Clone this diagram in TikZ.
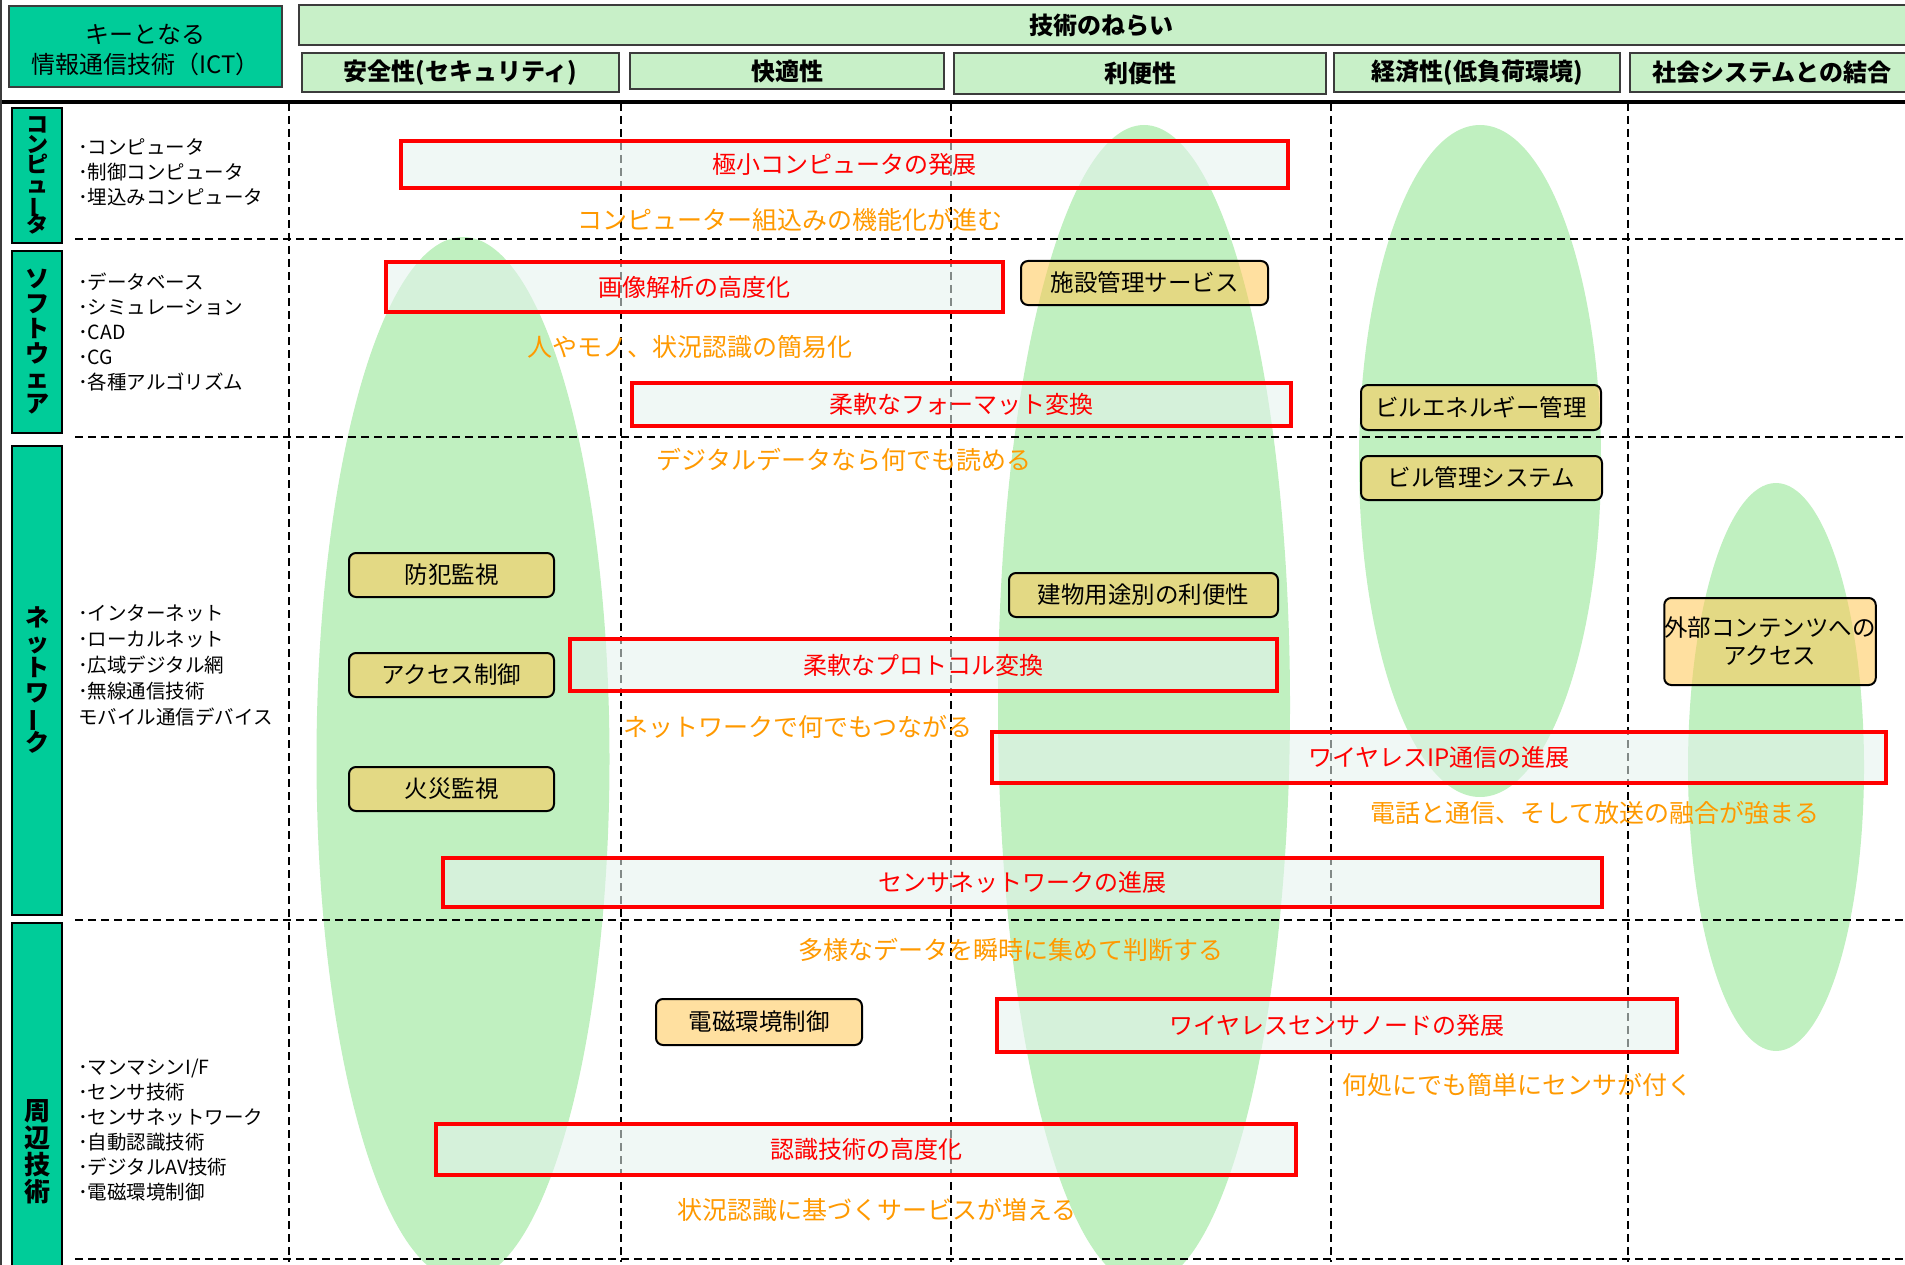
\documentclass[tikz,border=0pt]{standalone}
\usepackage{fontspec}
\setmainfont{Noto Sans CJK JP}
\usepackage{graphicx}
\usetikzlibrary{shapes.geometric}
\definecolor{tealc}{RGB}{0,204,153}
\definecolor{hdrgreen}{RGB}{200,240,200}
\definecolor{hdrline}{RGB}{60,60,60}
\definecolor{ellgreen}{RGB}{192,240,192}
\definecolor{redfill}{RGB}{229,243,238}
\definecolor{yfill}{RGB}{255,200,86}
\definecolor{orangetxt}{RGB}{255,153,0}
\newcommand{\vchou}{\rotatebox[origin=c]{90}{ー}}
\tikzset{
 redbox/.style={draw=red, line width=4pt, fill=redfill, fill opacity=0.57, text opacity=1, text=red, font=\fontsize{24}{28}\selectfont, inner sep=0pt},
 ybox/.style={draw=black, line width=2pt, rounded corners=7pt, fill=yfill, fill opacity=0.56, text opacity=1, text=black, font=\fontsize{23.5}{28}\selectfont, inner sep=0pt, align=center},
 note/.style={text=orangetxt, font=\fontsize{25}{28}\selectfont, inner sep=0pt},
 hdr/.style={draw=hdrline, line width=1.5pt, fill=hdrgreen, font=\bfseries\fontsize{24}{28}\selectfont, inner sep=0pt},
 catbox/.style={draw=black, line width=2pt, fill=tealc, inner sep=0pt, align=center, minimum width=50pt},
 items/.style={anchor=west, align=left, inner sep=0pt, font=\fontsize{19.5}{25}\selectfont},
 gridthick/.style={line width=2pt, dash pattern=on 8pt off 5pt},
 gridthin/.style={line width=1.3pt, dash pattern=on 8pt off 5pt},
}
\begin{document}
\begin{tikzpicture}[x=1pt,y=-1pt]
\useasboundingbox (0,0) rectangle (1905,1265);
\clip (0,0) rectangle (1905,1265);
% green ellipses
\fill[ellgreen] (463,759) ellipse [x radius=146.5pt, y radius=522pt];
\fill[ellgreen] (1144,705) ellipse [x radius=146pt, y radius=580pt];
\fill[ellgreen] (1480,461) ellipse [x radius=121pt, y radius=336pt];
\fill[ellgreen] (1776,767) ellipse [x radius=88pt, y radius=284pt];
% grid
\foreach \xx in {289,1331,1628} \draw[gridthick] (\xx,103) -- (\xx,1262);
\foreach \xx in {621,951} \draw[gridthin] (\xx,103) -- (\xx,1262);
\foreach \yy in {239,437,920,1259} \draw[gridthick] (75,\yy) -- (1905,\yy);
\draw[line width=4pt] (0,102) -- (1905,102);
\draw[line width=2pt, hdrline] (1,0) -- (1,1265);
% header
\node[draw=hdrline, line width=1.5pt, fill=tealc, minimum width=273pt, minimum height=81pt, inner sep=0pt] (ict) at (145.5,46.5) {};
\node[align=center, inner sep=0pt, font=\fontsize{24}{30}\selectfont] (icttext) at (145.5,50) {キーとなる\\情報通信技術（ICT）};
\node[hdr, minimum width=1615pt, minimum height=40pt] (aim) at (1106.5,25) {\hspace*{-10pt}技術のねらい};
\node[hdr, minimum width=317pt, minimum height=39pt] (h1) at (460.5,72.5) {安全性(セキュリティ)};
\node[hdr, minimum width=314pt, minimum height=36pt] (h2) at (787,71) {快適性};
\node[hdr, minimum width=372pt, minimum height=41pt] (h3) at (1140,73.5) {利便性};
\node[hdr, minimum width=286pt, minimum height=39pt] (h4) at (1477,72.5) {経済性(低負荷環境)};
\node[hdr, minimum width=284pt, minimum height=39pt] (h5) at (1772,72.5) {社会システムとの結合};
% category boxes
\node[catbox, minimum height=135pt, font={\bfseries\fontsize{22}{20}\selectfont\lineskiplimit=-50pt}] (catcomp) at (37,175.5) {コ\\ン\\ピ\\ュ\\\vchou\\タ};
\node[catbox, minimum height=182pt, font={\bfseries\fontsize{24}{25}\selectfont\lineskiplimit=-50pt}] (catsoft) at (37,342) {ソ\\フ\\ト\\ウ\\ェ\\ア};
\node[catbox, minimum height=469pt, font={\bfseries\fontsize{24}{25}\selectfont\lineskiplimit=-50pt}] (catnet) at (37,680) {ネ\\ッ\\ト\\ワ\\\vchou\\ク};
\node[catbox, minimum height=457pt, font={\bfseries\fontsize{26}{27}\selectfont\lineskiplimit=-50pt}] (catperi) at (37,1151.5) {周\\辺\\技\\術};
% item lists
\node[items] (compitems) at (78,172.5) {･コンピュータ\\･制御コンピュータ\\･埋込みコンピュータ};
\node[items] (softitems) at (78,332.5) {･データベース\\･シミュレーション\\･CAD\\･CG\\･各種アルゴリズム};
\node[items, font=\fontsize{19.5}{26}\selectfont] (netitems) at (78,665) {･インターネット\\･ローカルネット\\･広域デジタル網\\･無線通信技術\\モバイル通信デバイス};
\node[items] (periitems) at (78,1130.5) {･マンマシンI/F\\･センサ技術\\･センサネットワーク\\･自動認識技術\\･デジタルAV技術\\･電磁環境制御};
% red boxes
\node[redbox, minimum width=887pt, minimum height=47pt] (r1) at (844.5,164.5) {極小コンピュータの発展};
\node[redbox, minimum width=617pt, minimum height=50pt] (r2) at (694.5,287) {画像解析の高度化};
\node[redbox, minimum width=659pt, minimum height=43pt] (r3) at (961.5,404.5) {柔軟なフォーマット変換};
\node[redbox, minimum width=707pt, minimum height=52pt] (r4) at (923.5,665) {柔軟なプロトコル変換};
\node[redbox, minimum width=894pt, minimum height=51pt] (r5) at (1439,757.5) {ワイヤレスIP通信の進展};
\node[redbox, minimum width=1159pt, minimum height=49pt] (r6) at (1022.5,882.5) {センサネットワークの進展};
\node[redbox, minimum width=680pt, minimum height=53pt] (r7) at (1337,1025.5) {ワイヤレスセンサノードの発展};
\node[redbox, minimum width=860pt, minimum height=51pt] (r8) at (866,1149.5) {認識技術の高度化};
% yellow boxes
\node[ybox, minimum width=247pt, minimum height=44pt] (y1) at (1144.5,283) {施設管理サービス};
\node[ybox, minimum width=205pt, minimum height=44pt] (y2) at (451.5,575) {防犯監視};
\node[ybox, minimum width=205pt, minimum height=44pt] (y3) at (451.5,675) {アクセス制御};
\node[ybox, minimum width=205pt, minimum height=44pt] (y4) at (451.5,789) {火災監視};
\node[ybox, minimum width=269pt, minimum height=44pt] (y5) at (1143.5,595) {建物用途別の利便性};
\node[ybox, minimum width=240pt, minimum height=45pt] (y6) at (1481,407.5) {ビルエネルギー管理};
\node[ybox, minimum width=241pt, minimum height=44pt] (y7) at (1481.5,478) {ビル管理システム};
\node[ybox, minimum width=206pt, minimum height=87pt] (y8) at (1770,641.5) {外部コンテンツへの\\アクセス};
\node[ybox, minimum width=206pt, minimum height=46pt] (y9) at (759,1022) {電磁環境制御};
% orange notes
\node[note] (n1) at (790,220) {コンピューター組込みの機能化が進む};
\node[note] (n2) at (690,347) {人やモノ、状況認識の簡易化};
\node[note] (n3) at (844,460) {デジタルデータなら何でも読める};
\node[note] (n4) at (798,727) {ネットワークで何でもつながる};
\node[note] (n5) at (1595,813) {電話と通信、そして放送の融合が強まる};
\node[note] (n6) at (1011,950) {多様なデータを瞬時に集めて判断する};
\node[note] (n7) at (1517,1085) {何処にでも簡単にセンサが付く};
\node[note] (n8) at (877,1210) {状況認識に基づくサービスが増える};
\end{tikzpicture}
\end{document}
